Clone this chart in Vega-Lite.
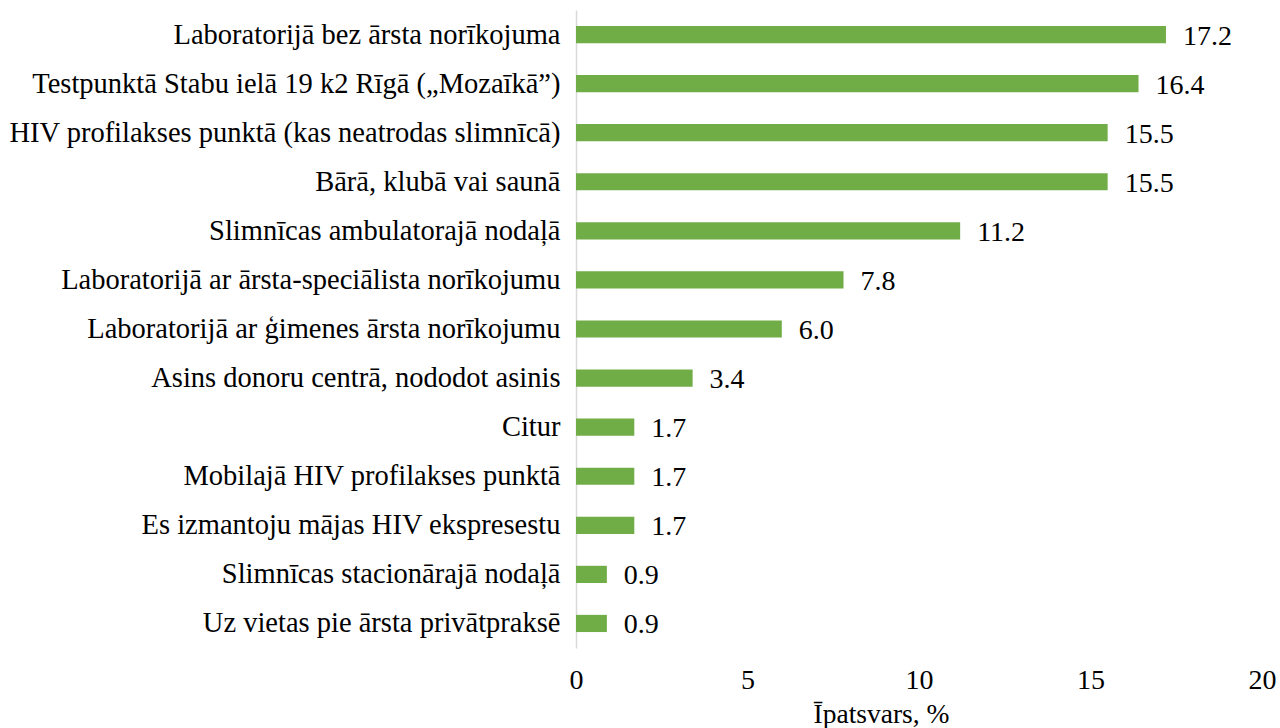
{
  "$schema": "https://vega.github.io/schema/vega-lite/v6.json",
  "width": 686,
  "height": 638,
  "autosize": {"type": "none"},
  "padding": {"left": 576, "top": 10, "right": 18, "bottom": 80},
  "background": "white",
  "data": {
    "values": [
      {"cat": "Laboratorijā bez ārsta norīkojuma", "v": 17.2},
      {"cat": "Testpunktā Stabu ielā 19 k2 Rīgā („Mozaīkā”)", "v": 16.4},
      {"cat": "HIV profilakses punktā (kas neatrodas slimnīcā)", "v": 15.5},
      {"cat": "Bārā, klubā vai saunā", "v": 15.5},
      {"cat": "Slimnīcas ambulatorajā nodaļā", "v": 11.2},
      {"cat": "Laboratorijā ar ārsta-speciālista norīkojumu", "v": 7.8},
      {"cat": "Laboratorijā ar ģimenes ārsta norīkojumu", "v": 6.0},
      {"cat": "Asins donoru centrā, nododot asinis", "v": 3.4},
      {"cat": "Citur", "v": 1.7},
      {"cat": "Mobilajā HIV profilakses punktā", "v": 1.7},
      {"cat": "Es izmantoju mājas HIV ekspresestu", "v": 1.7},
      {"cat": "Slimnīcas stacionārajā nodaļā", "v": 0.9},
      {"cat": "Uz vietas pie ārsta privātpraksē", "v": 0.9}
    ]
  },
  "config": {
    "font": "Times New Roman, Liberation Serif, serif",
    "view": {"stroke": null}
  },
  "encoding": {
    "y": {
      "field": "cat",
      "type": "nominal",
      "sort": null,
      "scale": {"paddingInner": 0.65, "paddingOuter": 0.325},
      "axis": {
        "title": null,
        "ticks": false,
        "domainColor": "#d9d9d9",
        "domainWidth": 1.5,
        "labelFont": "Times New Roman, Liberation Serif, serif",
        "labelFontSize": 28.5,
        "labelColor": "#000000",
        "labelPadding": 16,
        "labelLimit": 700
      }
    },
    "x": {
      "field": "v",
      "type": "quantitative",
      "scale": {"domain": [0, 20], "nice": false},
      "axis": {
        "values": [0, 5, 10, 15, 20],
        "grid": false,
        "domain": false,
        "ticks": false,
        "labelFlush": false,
        "labelFont": "Times New Roman, Liberation Serif, serif",
        "labelFontSize": 28,
        "labelColor": "#000000",
        "labelPadding": 18,
        "title": "Īpatsvars, %",
        "titleFont": "Times New Roman, Liberation Serif, serif",
        "titleFontSize": 27.5,
        "titleFontWeight": "normal",
        "titleColor": "#000000",
        "titleX": 305,
        "titlePadding": 6
      }
    }
  },
  "layer": [
    {"mark": {"type": "bar", "color": "#70ad47"}},
    {
      "mark": {"type": "text", "align": "left", "baseline": "middle", "dx": 17, "dy": 2, "fontSize": 28, "font": "Times New Roman, Liberation Serif, serif", "color": "#000000"},
      "encoding": {"text": {"field": "v", "type": "quantitative", "format": ".1f"}}
    }
  ]
}
